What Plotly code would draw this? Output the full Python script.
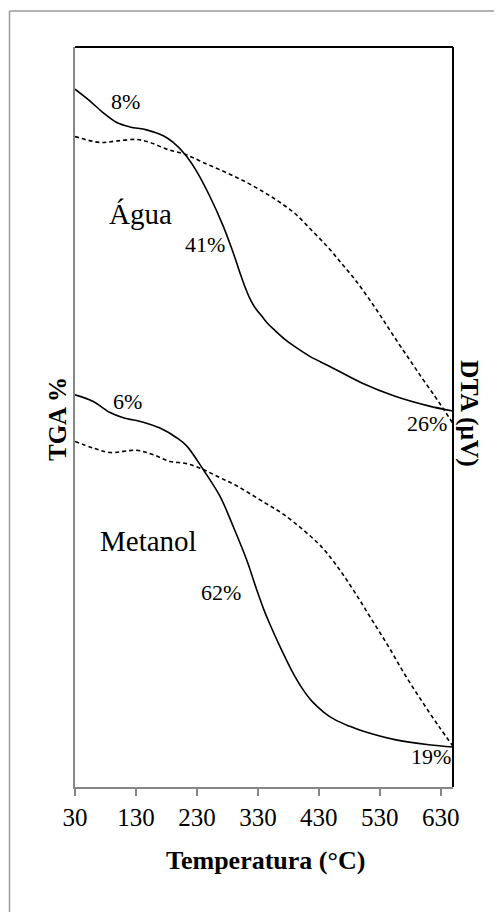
import plotly.graph_objects as go

# Temperatures (°C) and signals (arbitrary units, 0-100 scale of plot height)
agua_tga_t = [30, 54.6, 76.4, 98.4, 120.2, 147.5, 174.8, 191.1, 210.3, 229.5, 251.3, 273.1, 289.5,
              300.5, 308.7, 316.9, 325.1, 336.6, 346.4, 357.9, 374.3, 390.7, 415.2, 446.4,
              500.5, 555.1, 609.8, 650]
agua_tga_v = [94.3, 92.7, 91.1, 89.8, 89.2, 88.8, 88.0, 87.1, 85.5, 83.2, 79.8, 75.8, 72.2,
              69.5, 67.6, 66.0, 64.8, 63.6, 62.6, 61.7, 60.5, 59.5, 58.2, 56.9,
              54.6, 52.8, 51.5, 50.8]

agua_dta_t = [30, 71.0, 98.4, 131.1, 153.0, 180.3, 210.3, 240.3, 278.7, 311.5, 341.5, 364.4, 390.7,
              418.5, 446.4, 467.7, 489.0, 512.0, 533.3, 554.6, 577.5, 598.9, 620.2, 635.0, 650]
agua_dta_v = [87.9, 87.1, 87.3, 87.5, 87.1, 86.2, 85.5, 84.4, 83.0, 81.7, 80.3, 79.1, 77.5,
              75.2, 72.8, 70.7, 68.6, 66.0, 63.4, 60.7, 57.9, 55.3, 52.8, 51.0, 49.1]

metanol_tga_t = [30, 60.0, 87.4, 109.2, 142.0, 169.3, 196.7, 213.1, 240.3, 267.7, 289.5, 311.5, 327.9,
                 341.5, 349.7, 366.1, 385.7, 402.1, 418.5, 438.2, 456.2, 480.8, 500.5, 554.6,
                 610.3, 650]
metanol_tga_v = [53.0, 52.1, 50.6, 49.9, 49.3, 48.5, 47.2, 46.1, 42.9, 39.3, 35.2, 30.7, 26.7,
                 23.6, 22.0, 19.0, 15.7, 13.4, 11.6, 10.1, 9.1, 8.2, 7.6, 6.4,
                 5.7, 5.4]

metanol_dta_t = [30, 60.0, 87.4, 131.1, 158.4, 185.7, 213.1, 240.3, 267.7, 295.1, 341.5, 369.3, 402.1,
                 434.9, 462.8, 489.0, 516.9, 544.8, 571.0, 598.9, 626.7, 650]
metanol_dta_v = [46.7, 45.8, 45.2, 45.5, 44.9, 44.0, 43.7, 42.9, 41.8, 40.7, 38.4, 37.0, 34.9,
                 32.4, 29.5, 26.3, 22.6, 18.9, 15.2, 11.6, 8.2, 5.5]

x_ticks = [30, 130, 230, 330, 430, 530, 630]

# Labels: text, temperature, signal
label_text = ["8%", "Água", "41%", "26%", "6%", "Metanol", "62%", "19%"]
label_t = [113.6, 137.7, 243.1, 607.5, 116.9, 150.8, 269.3, 614.1]
label_v = [92.7, 77.4, 73.3, 49.1, 52.1, 33.3, 26.3, 4.1]
label_size = [22, 29, 22, 22, 22, 29, 22, 22]

FONT = "Liberation Serif, Times New Roman, serif"

# page body has an 8px margin: figure drawn at (8, 8)
OFF = 8
W, H = 502 - OFF, 912 - OFF
L, T = 75 - OFF, 47 - OFF
PW, PH = 378, 740

def px_to_paper_x(px):
    return (px - 75) / PW

def py_to_paper_y(py):
    return (787 - py) / PH

fig = go.Figure()
line_solid = dict(color="black", width=1.6, shape="spline", smoothing=1.0)
line_dash = dict(color="black", width=1.6, dash="4px,3px", shape="spline", smoothing=1.0)
fig.add_trace(go.Scatter(x=agua_tga_t, y=agua_tga_v, mode="lines", line=line_solid, name="Água TGA"))
fig.add_trace(go.Scatter(x=agua_dta_t, y=agua_dta_v, mode="lines", line=line_dash, name="Água DTA"))
fig.add_trace(go.Scatter(x=metanol_tga_t, y=metanol_tga_v, mode="lines", line=line_solid, name="Metanol TGA"))
fig.add_trace(go.Scatter(x=metanol_dta_t, y=metanol_dta_v, mode="lines", line=line_dash, name="Metanol DTA"))

for t, x, y, s in zip(label_text, label_t, label_v, label_size):
    fig.add_annotation(x=x, y=y, xref="x", yref="y", text=t, showarrow=False,
                       font=dict(family=FONT, size=s, color="black"),
                       xanchor="center", yanchor="middle")

# axis titles
fig.add_annotation(x=px_to_paper_x(265), y=py_to_paper_y(860), xref="paper", yref="paper",
                   text="<b>Temperatura (°C)</b>", showarrow=False,
                   font=dict(family=FONT, size=26, color="black"), xanchor="center", yanchor="middle")
fig.add_annotation(x=px_to_paper_x(57), y=py_to_paper_y(419), xref="paper", yref="paper",
                   text="<b>TGA %</b>", showarrow=False, textangle=-90,
                   font=dict(family=FONT, size=25, color="black"), xanchor="center", yanchor="middle")
fig.add_annotation(x=px_to_paper_x(470), y=py_to_paper_y(414), xref="paper", yref="paper",
                   text="<b>DTA (μV)</b>", showarrow=False, textangle=90,
                   font=dict(family=FONT, size=25.5, color="black"), xanchor="center", yanchor="middle")

# frame: top and right black lines, outer gray border
fig.add_shape(type="line", xref="paper", yref="paper", x0=0, x1=1, y0=1, y1=1,
              line=dict(color="black", width=2))
fig.add_shape(type="line", xref="paper", yref="paper", x0=1, x1=1, y0=0, y1=1,
              line=dict(color="black", width=2))
bx = px_to_paper_x(9.5)
by = py_to_paper_y(11)
fig.add_shape(type="line", xref="paper", yref="paper", x0=bx, x1=bx, y0=-0.2, y1=by,
              line=dict(color="#9a9a9a", width=1.5))
fig.add_shape(type="line", xref="paper", yref="paper", x0=bx, x1=1.2, y0=by, y1=by,
              line=dict(color="#9a9a9a", width=1.5))

fig.update_layout(
    width=W, height=H,
    margin=dict(l=L, r=W - L - PW, t=T, b=H - T - PH),
    plot_bgcolor="white", paper_bgcolor="white",
    showlegend=False,
    font=dict(family=FONT, color="black"),
)
fig.update_xaxes(range=[30, 650], tickvals=x_ticks, ticktext=[str(v) for v in x_ticks],
                 showgrid=False, zeroline=False, showline=True, linecolor="#868686", linewidth=2,
                 ticks="outside", ticklen=7, tickwidth=2, tickcolor="#868686",
                 tickfont=dict(family=FONT, size=25, color="black"))
fig.update_yaxes(range=[0, 100], showticklabels=False, showgrid=False, zeroline=False,
                 showline=True, linecolor="#868686", linewidth=2, ticks="")

fig.write_html("out.html")
